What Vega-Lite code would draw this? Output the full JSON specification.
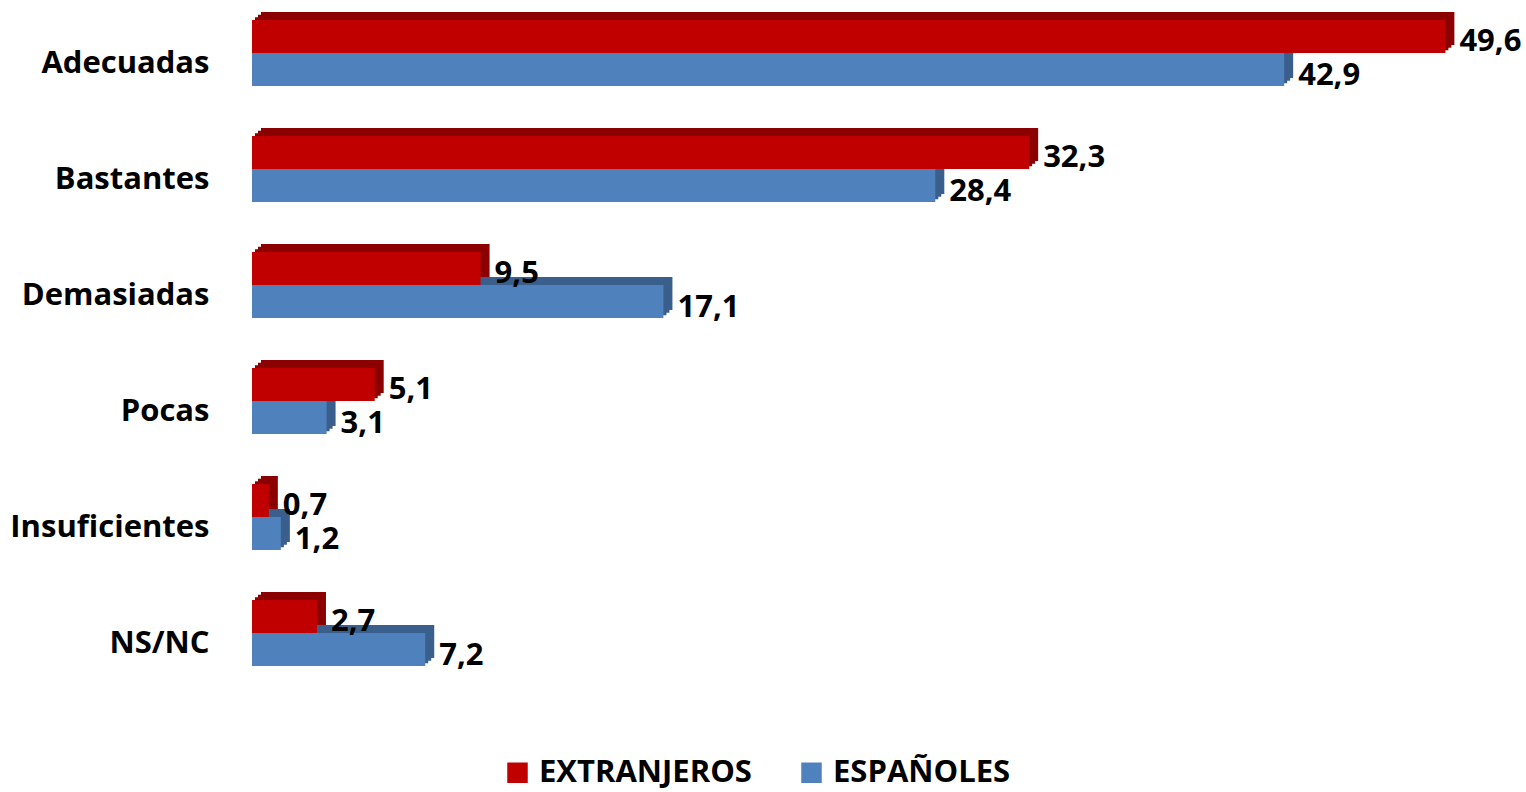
{
  "$schema": "https://vega.github.io/schema/vega-lite/v6.json",
  "autosize": "none",
  "padding": {"left": 252, "top": 10, "right": 71, "bottom": 116},
  "width": 1203,
  "height": 666,
  "background": "white",
  "config": {
    "view": {"stroke": null},
    "locale": {"number": {"decimal": ",", "thousands": ".", "grouping": [3], "currency": ["", " €"]}}
  },
  "data": {
    "values": [
      {"cat": "Adecuadas", "series": "EXTRANJEROS", "value": 49.6},
      {"cat": "Adecuadas", "series": "ESPAÑOLES", "value": 42.9},
      {"cat": "Bastantes", "series": "EXTRANJEROS", "value": 32.3},
      {"cat": "Bastantes", "series": "ESPAÑOLES", "value": 28.4},
      {"cat": "Demasiadas", "series": "EXTRANJEROS", "value": 9.5},
      {"cat": "Demasiadas", "series": "ESPAÑOLES", "value": 17.1},
      {"cat": "Pocas", "series": "EXTRANJEROS", "value": 5.1},
      {"cat": "Pocas", "series": "ESPAÑOLES", "value": 3.1},
      {"cat": "Insuficientes", "series": "EXTRANJEROS", "value": 0.7},
      {"cat": "Insuficientes", "series": "ESPAÑOLES", "value": 1.2},
      {"cat": "NS/NC", "series": "EXTRANJEROS", "value": 2.7},
      {"cat": "NS/NC", "series": "ESPAÑOLES", "value": 7.2}
    ]
  },
  "encoding": {
    "y": {
      "field": "cat",
      "type": "nominal",
      "sort": ["Adecuadas", "Bastantes", "Demasiadas", "Pocas", "Insuficientes", "NS/NC"],
      "scale": {"paddingInner": 0.431, "paddingOuter": 0.086},
      "axis": {
        "title": null,
        "domain": false,
        "ticks": false,
        "labelPadding": 43,
        "labelFont": "Open Sans",
        "labelFontSize": 31,
        "labelFontWeight": "bold",
        "labelColor": "black",
        "labelOffset": 11,
        "labelLimit": 0
      }
    },
    "x": {
      "field": "value",
      "type": "quantitative",
      "scale": {"domain": [0, 50]},
      "axis": null
    }
  },
  "layer": [
    {"transform": [{"filter": "datum.series === 'EXTRANJEROS'"}],
     "mark": {"type": "bar", "height": 33, "yOffset": -24.5, "xOffset": 9, "x2Offset": 9, "color": "#8B0000"}},
    {"transform": [{"filter": "datum.series === 'EXTRANJEROS'"}],
     "mark": {"type": "bar", "height": 33, "yOffset": -21.8, "xOffset": 6, "x2Offset": 6, "color": "#8B0000"}},
    {"transform": [{"filter": "datum.series === 'EXTRANJEROS'"}],
     "mark": {"type": "bar", "height": 33, "yOffset": -19.2, "xOffset": 3, "x2Offset": 3, "color": "#8B0000"}},
    {"transform": [{"filter": "datum.series === 'ESPAÑOLES'"}],
     "mark": {"type": "bar", "height": 33, "yOffset": 8.5, "xOffset": 9, "x2Offset": 9, "color": "#3A5F8C"}},
    {"transform": [{"filter": "datum.series === 'ESPAÑOLES'"}],
     "mark": {"type": "bar", "height": 33, "yOffset": 11.2, "xOffset": 6, "x2Offset": 6, "color": "#3A5F8C"}},
    {"transform": [{"filter": "datum.series === 'ESPAÑOLES'"}],
     "mark": {"type": "bar", "height": 33, "yOffset": 13.8, "xOffset": 3, "x2Offset": 3, "color": "#3A5F8C"}},
    {"transform": [{"filter": "datum.series === 'EXTRANJEROS'"}],
     "mark": {"type": "bar", "height": 33, "yOffset": -16.5},
     "encoding": {
       "color": {
         "field": "series",
         "type": "nominal",
         "scale": {"domain": ["EXTRANJEROS", "ESPAÑOLES"], "range": ["#C00000", "#4F81BD"]},
         "legend": {
           "title": null,
           "orient": "none",
           "direction": "horizontal",
           "legendX": 250,
           "legendY": 747,
           "padding": 0,
           "symbolType": "square",
           "symbolSize": 420,
           "symbolStrokeWidth": 0,
           "symbolOpacity": 1,
           "labelFont": "Open Sans",
           "labelFontSize": 31,
           "labelFontWeight": "bold",
           "labelColor": "black",
           "labelOffset": 6,
           "columnPadding": 44,
           "labelLimit": 0
         }
       }
     }},
    {"transform": [{"filter": "datum.series === 'ESPAÑOLES'"}],
     "mark": {"type": "bar", "height": 33, "yOffset": 16.5},
     "encoding": {"color": {"field": "series", "type": "nominal"}}},
    {"transform": [{"filter": "datum.series === 'EXTRANJEROS'"}],
     "mark": {"type": "text", "align": "left", "baseline": "middle", "dx": 14, "yOffset": -11, "font": "Open Sans", "fontSize": 31, "fontWeight": "bold", "color": "black"},
     "encoding": {"text": {"field": "value", "type": "quantitative", "format": ".1f"}}},
    {"transform": [{"filter": "datum.series === 'ESPAÑOLES'"}],
     "mark": {"type": "text", "align": "left", "baseline": "middle", "dx": 14, "yOffset": 23, "font": "Open Sans", "fontSize": 31, "fontWeight": "bold", "color": "black"},
     "encoding": {"text": {"field": "value", "type": "quantitative", "format": ".1f"}}}
  ]
}
